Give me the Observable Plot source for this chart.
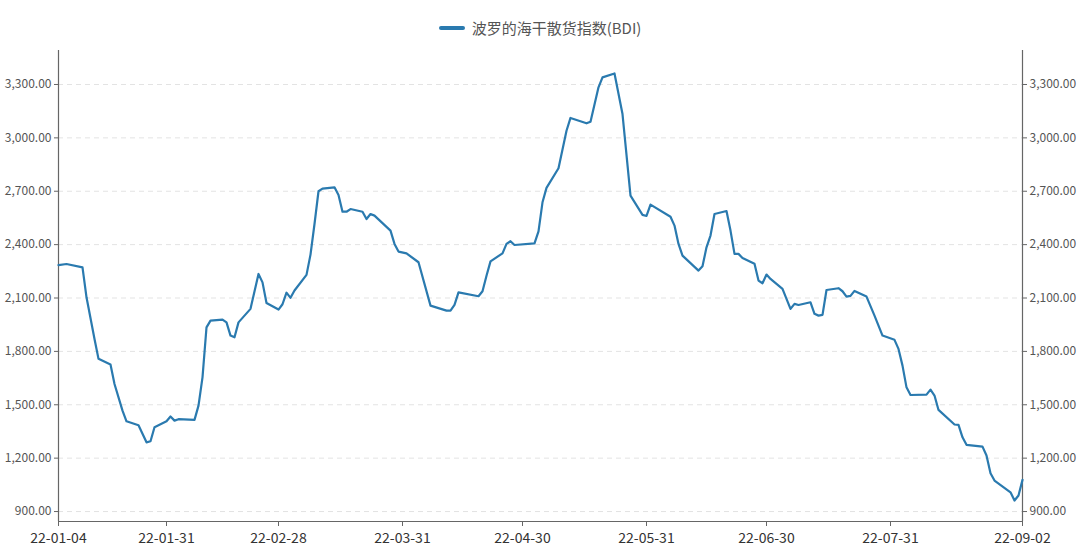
<!DOCTYPE html>
<html>
<head>
<meta charset="utf-8">
<script src="https://cdn.jsdelivr.net/npm/d3@7"></script>
<script src="https://cdn.jsdelivr.net/npm/@observablehq/plot@0.6"></script>
<style>
  body { margin: 0; background: #fff; font-family: "Noto Sans CJK SC", "Noto Sans", sans-serif; }
  #legend { height: 40px; display: flex; align-items: center; justify-content: center; padding-top: 14px; box-sizing: border-box; font-size: 15px; color: #555; }
  #legend .sw { display: inline-block; width: 26px; height: 4px; background: #2a7aaf; border-radius: 2px; margin-right: 7px; margin-top: 1px; }
</style>
</head>
<body>
<div id="legend"><span class="sw"></span><span>波罗的海干散货指数(BDI)</span></div>
<div id="chart"></div>
<script>
const seriesName = "波罗的海干散货指数(BDI)";
const dates = [
  "2022-01-04","2022-01-06","2022-01-10","2022-01-11","2022-01-13","2022-01-14","2022-01-17","2022-01-18","2022-01-20","2022-01-21",
  "2022-01-24","2022-01-26","2022-01-27","2022-01-28","2022-01-31","2022-02-01","2022-02-02","2022-02-03","2022-02-07","2022-02-08",
  "2022-02-09","2022-02-10","2022-02-11","2022-02-14","2022-02-15","2022-02-16","2022-02-17","2022-02-18","2022-02-21","2022-02-23",
  "2022-02-24","2022-02-25","2022-02-28","2022-03-01","2022-03-02","2022-03-03","2022-03-04","2022-03-07","2022-03-08","2022-03-09",
  "2022-03-10","2022-03-11","2022-03-14","2022-03-15","2022-03-16","2022-03-17","2022-03-18","2022-03-21","2022-03-22","2022-03-23",
  "2022-03-24","2022-03-28","2022-03-29","2022-03-30","2022-04-01","2022-04-04","2022-04-07","2022-04-11","2022-04-12","2022-04-13",
  "2022-04-14","2022-04-19","2022-04-20","2022-04-21","2022-04-22","2022-04-25","2022-04-26","2022-04-27","2022-04-28","2022-05-03",
  "2022-05-04","2022-05-05","2022-05-06","2022-05-09","2022-05-11","2022-05-12","2022-05-16","2022-05-17","2022-05-19","2022-05-20",
  "2022-05-23","2022-05-25","2022-05-27","2022-05-30","2022-05-31","2022-06-01","2022-06-06","2022-06-07","2022-06-08","2022-06-09",
  "2022-06-13","2022-06-14","2022-06-15","2022-06-16","2022-06-17","2022-06-20","2022-06-21","2022-06-22","2022-06-23","2022-06-24",
  "2022-06-27","2022-06-28","2022-06-29","2022-06-30","2022-07-01","2022-07-04","2022-07-06","2022-07-07","2022-07-08","2022-07-11",
  "2022-07-12","2022-07-13","2022-07-14","2022-07-15","2022-07-18","2022-07-19","2022-07-20","2022-07-21","2022-07-22","2022-07-25",
  "2022-07-27","2022-07-29","2022-08-01","2022-08-02","2022-08-03","2022-08-04","2022-08-05","2022-08-09","2022-08-10","2022-08-11",
  "2022-08-12","2022-08-16","2022-08-17","2022-08-18","2022-08-19","2022-08-23","2022-08-24","2022-08-25","2022-08-26","2022-08-30",
  "2022-08-31","2022-09-01","2022-09-02"
];
const bdi = [
  2285,2291,2272,2104,1870,1758,1726,1617,1467,1407,
  1385,1289,1295,1374,1407,1434,1411,1419,1415,1495,
  1654,1935,1973,1979,1963,1889,1879,1963,2039,2235,
  2188,2072,2035,2065,2130,2101,2142,2230,2344,2516,
  2700,2715,2722,2679,2585,2585,2600,2585,2544,2572,
  2563,2479,2404,2361,2351,2301,2057,2029,2029,2061,
  2132,2110,2138,2225,2306,2351,2404,2419,2398,2407,
  2475,2638,2719,2829,3040,3112,3082,3091,3284,3340,
  3362,3134,2675,2567,2561,2625,2557,2507,2404,2338,
  2254,2278,2385,2451,2572,2589,2479,2348,2348,2325,
  2292,2198,2183,2232,2207,2151,2039,2067,2061,2076,
  2011,2001,2005,2145,2155,2138,2108,2112,2140,2108,
  2001,1889,1865,1814,1720,1598,1555,1557,1585,1552,
  1471,1389,1387,1317,1275,1265,1215,1115,1074,1008,
  962,990,1078
];
const xTickDates = ["2022-01-04","2022-01-31","2022-02-28","2022-03-31","2022-04-30","2022-05-31","2022-06-30","2022-07-31","2022-09-02"];
const yTicks = [900,1200,1500,1800,2100,2400,2700,3000,3300];

const parse = d3.utcParse("%Y-%m-%d");
const data = dates.map((d, i) => ({date: parse(d), value: bdi[i], series: seriesName}));
const xTicks = xTickDates.map(parse);
const fmtY = d3.format(",.2f");
const fmtX = d3.utcFormat("%y-%m-%d");
const xDomain = [parse("2022-01-04"), parse("2022-09-02")];
const yDomain = [844, 3491];

const chart = Plot.plot({
  width: 1080,
  height: 513,
  marginTop: 10,
  marginBottom: 32,
  marginLeft: 58,
  marginRight: 58,
  style: {fontFamily: "'Noto Sans CJK SC', 'Noto Sans', sans-serif", fontSize: "12px", color: "#555", background: "#fff"},
  x: {type: "utc", domain: xDomain},
  y: {domain: yDomain},
  marks: [
    Plot.ruleY(yTicks, {stroke: "#e3e3e3", strokeDasharray: "5,4", strokeWidth: 1}),
    Plot.axisY({anchor: "left", ticks: yTicks, tickFormat: fmtY, tickSize: 4, tickPadding: 3, stroke: "#666", fill: "#555", fontSize: 12, label: null}),
    Plot.axisY({anchor: "right", ticks: yTicks, tickFormat: fmtY, tickSize: 4, tickPadding: 3, stroke: "#666", fill: "#555", fontSize: 12, label: null}),
    Plot.axisX({ticks: xTicks, tickFormat: fmtX, tickSize: 5, tickPadding: 7, stroke: "#666", fill: "#333", fontSize: 14, label: null}),
    Plot.ruleX([xDomain[0]], {stroke: "#666", strokeWidth: 1.2}),
    Plot.ruleX([xDomain[1]], {stroke: "#666", strokeWidth: 1.2}),
    Plot.ruleY([yDomain[0]], {stroke: "#666", strokeWidth: 1.2}),
    Plot.line(data, {x: "date", y: "value", stroke: "#2a7aaf", strokeWidth: 2.2, curve: "linear"})
  ]
});
document.getElementById("chart").appendChild(chart);
</script>
</body>
</html>
